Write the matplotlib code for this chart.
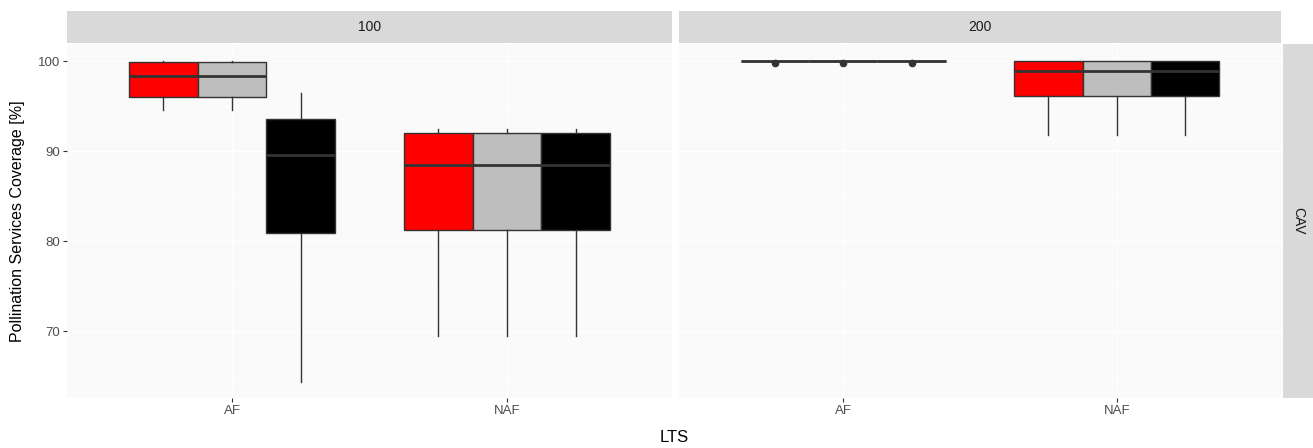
import numpy as np
import matplotlib
matplotlib.use("Agg")
import matplotlib.pyplot as plt

plt.rcParams['font.family'] = ['Liberation Sans', 'DejaVu Sans']

# facets / categories / groups
facets = ["100", "200"]
categories = ["AF", "NAF"]
group_colors = ["#FF0000", "#BEBEBE", "#000000"]
row_label = "CAV"

# box stats per facet -> category -> group : (whislo, q1, med, q3, whishi)
stats_100_AF = [(94.6, 96.0, 98.3, 99.9, 100.0),
                (94.6, 96.0, 98.3, 99.9, 100.0),
                (64.3, 80.85, 89.6, 93.6, 96.5)]
stats_100_NAF = [(69.4, 81.2, 88.5, 92.0, 92.5),
                 (69.4, 81.2, 88.5, 92.0, 92.5),
                 (69.4, 81.2, 88.5, 92.0, 92.5)]
stats_200_AF = [(100.0, 100.0, 100.0, 100.0, 100.0),
                (100.0, 100.0, 100.0, 100.0, 100.0),
                (100.0, 100.0, 100.0, 100.0, 100.0)]
stats_200_NAF = [(91.8, 96.1, 98.9, 100.0, 100.0),
                 (91.8, 96.1, 98.9, 100.0, 100.0),
                 (91.8, 96.1, 98.9, 100.0, 100.0)]
fliers_200_AF = [[99.75], [99.75], [99.75]]

panel_data = {
    "100": {"AF": (stats_100_AF, [[], [], []]), "NAF": (stats_100_NAF, [[], [], []])},
    "200": {"AF": (stats_200_AF, fliers_200_AF), "NAF": (stats_200_NAF, [[], [], []])},
}

W, H = 1313, 448
fig = plt.figure(figsize=(W / 100, H / 100), dpi=100)

def fx(px):
    return px / W

def fy(py):
    return 1 - py / H

panel_top, panel_bot = 44, 398
panels_x = [(67, 672), (679, 1281)]
offsets = [-0.25, 0.0, 0.25]
edge = "#333333"

axes = []
for i, (facet, (x0, x1)) in enumerate(zip(facets, panels_x)):
    ax = fig.add_axes([fx(x0), fy(panel_bot), fx(x1 - x0), fy(panel_top) - fy(panel_bot)])
    ax.set_facecolor("#FAFAFA")
    for s in ax.spines.values():
        s.set_visible(False)
    ax.set_xlim(0.4, 2.6)
    ax.set_ylim(62.56, 101.9)
    ax.set_yticks([70, 80, 90, 100])
    ax.set_yticks([65, 75, 85, 95], minor=True)
    ax.set_xticks([1, 2])
    ax.set_xticklabels(categories)
    ax.grid(True, which="major", color="#FFFFFF", linewidth=0.9)
    ax.grid(True, which="minor", axis="y", color="#FFFFFF", linewidth=0.5)
    ax.set_axisbelow(True)
    ax.tick_params(axis="both", which="major", length=3, width=0.8, color="#333333",
                   labelsize=9.5, labelcolor="#4D4D4D", pad=2)
    ax.tick_params(axis="both", which="minor", length=0)
    if i > 0:
        ax.tick_params(axis="y", labelleft=False, length=0)

    for ci, cat in enumerate(categories):
        st, fl = panel_data[facet][cat]
        bxp_stats = []
        for (lo, q1, med, q3, hi), f in zip(st, fl):
            bxp_stats.append({"whislo": lo, "q1": q1, "med": med, "q3": q3,
                              "whishi": hi, "fliers": f})
        pos = [ci + 1 + o for o in offsets]
        bp = ax.bxp(bxp_stats, positions=pos, widths=0.25, patch_artist=True,
                    showcaps=False, manage_ticks=False,
                    boxprops=dict(edgecolor=edge, linewidth=1.0),
                    medianprops=dict(color=edge, linewidth=2.0),
                    whiskerprops=dict(color=edge, linewidth=1.0),
                    flierprops=dict(marker="o", markersize=4.5, markerfacecolor=edge,
                                    markeredgecolor=edge))
        for patch, c in zip(bp["boxes"], group_colors):
            patch.set_facecolor(c)
    axes.append(ax)

    # top strip
    sax = fig.add_axes([fx(x0), fy(43), fx(x1 - x0), fy(11) - fy(43)])
    sax.set_facecolor("#D9D9D9")
    sax.set_xticks([])
    sax.set_yticks([])
    for s in sax.spines.values():
        s.set_visible(False)
    sax.text(0.5, 0.5, facet, ha="center", va="center", fontsize=10, color="#1A1A1A",
             transform=sax.transAxes)

# right strip
rax = fig.add_axes([fx(1283), fy(panel_bot), fx(1313 - 1283), fy(panel_top) - fy(panel_bot)])
rax.set_facecolor("#D9D9D9")
rax.set_xticks([])
rax.set_yticks([])
for s in rax.spines.values():
    s.set_visible(False)
rax.text(0.5, 0.5, row_label, ha="center", va="center", rotation=-90, fontsize=10,
         color="#1A1A1A", transform=rax.transAxes)

fig.text(fx(18), fy((panel_top + panel_bot) / 2), "Pollination Services Coverage [%]",
         rotation=90, ha="center", va="center", fontsize=11.5, color="black")
fig.text(fx(674), fy(437), "LTS", ha="center", va="center", fontsize=12, color="black")

fig.savefig("out.png", dpi=100)
